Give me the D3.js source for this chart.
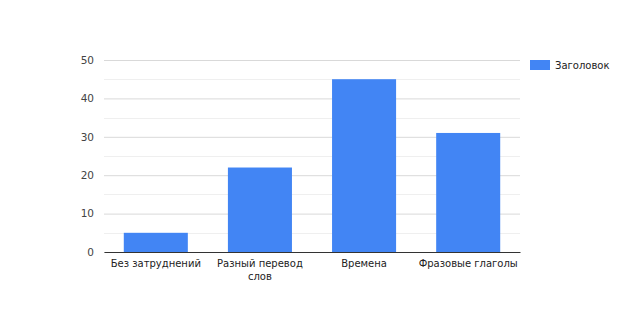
<!DOCTYPE html>
<html>
<head>
<meta charset="utf-8">
<script src="https://cdn.jsdelivr.net/npm/d3@7"></script>
<style>
  body { margin: 0; background: #fff; }
  text { font-family: "DejaVu Sans", sans-serif; }
</style>
</head>
<body>
<div id="chart"></div>
<script>
// Данные
const categories = ["Без затруднений", "Разный перевод слов", "Времена", "Фразовые глаголы"];
const values = [5, 22, 45, 31];
const seriesName = "Заголовок";
const yTicks = [0, 10, 20, 30, 40, 50];
const yMinor = [5, 15, 25, 35, 45];

const W = 624, H = 312;
const margin = { top: 60, right: 104, bottom: 60, left: 104 };
const innerW = W - margin.left - margin.right;
const innerH = H - margin.top - margin.bottom;
const color = "#4285f4";

const svg = d3.select("#chart").append("svg")
  .attr("width", W)
  .attr("height", H);

const g = svg.append("g")
  .attr("transform", `translate(${margin.left},${margin.top})`);

const x = d3.scaleBand()
  .domain(categories)
  .range([0, innerW])
  .paddingInner(0.385)
  .paddingOuter(0.19);

const y = d3.scaleLinear()
  .domain([0, 50])
  .range([innerH, 0]);

// сетка (второстепенные линии)
g.append("g")
  .selectAll("line")
  .data(yMinor)
  .enter().append("line")
  .attr("x1", 0).attr("x2", innerW)
  .attr("y1", d => Math.round(y(d)) + 0.5)
  .attr("y2", d => Math.round(y(d)) + 0.5)
  .attr("stroke", "#efefef");

// основная сетка + подписи
g.append("g")
  .call(d3.axisLeft(y).tickValues(yTicks).tickSize(-innerW).tickPadding(10))
  .call(g => g.select(".domain").remove())
  .call(g => g.selectAll("line").attr("stroke", "#d9d9d9"))
  .call(g => g.selectAll("text")
    .style("font-size", "10.5px")
    .style("fill", "#444"));

// столбцы
g.selectAll(".bar")
  .data(values)
  .enter().append("rect")
  .attr("class", "bar")
  .attr("x", (d, i) => x(categories[i]))
  .attr("y", d => y(d))
  .attr("width", x.bandwidth())
  .attr("height", d => innerH - y(d))
  .attr("fill", color);

// ось X
const xAxis = g.append("g")
  .attr("transform", `translate(0,${innerH})`)
  .call(d3.axisBottom(x).tickSize(0).tickPadding(8));
xAxis.select(".domain").attr("stroke", "#333");
xAxis.selectAll("text")
  .style("font-size", "10px")
  .style("fill", "#222")
  .each(function(d) {
    const t = d3.select(this);
    const width = this.getComputedTextLength();
    if (width > x.step()) {
      const words = d.split(" ");
      const first = words.slice(0, -1).join(" ");
      const last = words[words.length - 1];
      t.text(null);
      t.append("tspan").attr("x", 0).attr("dy", "0.71em").text(first);
      t.append("tspan").attr("x", 0).attr("dy", "1.3em").text(last);
      t.attr("dy", null);
    }
  });

// легенда
const legend = svg.append("g")
  .attr("transform", `translate(530,60)`);
legend.append("rect")
  .attr("width", 20).attr("height", 10)
  .attr("fill", color);
legend.append("text")
  .attr("x", 25).attr("y", 5)
  .attr("dy", "0.35em")
  .style("font-size", "10px")
  .style("fill", "#222")
  .text(seriesName);
</script>
</body>
</html>
